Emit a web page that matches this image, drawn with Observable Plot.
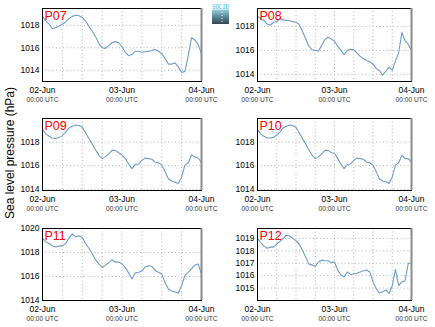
<!DOCTYPE html>
<html><head><meta charset="utf-8">
<script src="https://cdn.jsdelivr.net/npm/d3@7"></script>
<script src="https://cdn.jsdelivr.net/npm/@observablehq/plot@0.6"></script>
<style>
body{margin:0;background:#fff;}
#fig{position:relative;width:435px;height:327px;overflow:hidden;background:#fff;font-family:"Liberation Sans",Arial,sans-serif;}
#fig svg{position:absolute;}
</style></head><body><div id="fig"></div>
<script>
const hours = [0,1,2,3,4,5,6,7,8,9,10,11,12,13,14,15,16,17,18,19,20,21,22,23,24,25,26,27,28,29,30,31,32,33,34,35,36,37,38,39,40,41,42,43,44,45,46,47,48];
const p07 = [1018.8,1018.4,1018.1,1017.7,1017.8,1017.95,1018.1,1018.3,1018.6,1018.8,1018.9,1018.85,1018.7,1018.4,1017.9,1017.5,1017.0,1016.4,1016.0,1015.95,1016.2,1016.45,1016.55,1016.45,1016.1,1015.6,1015.3,1015.4,1015.7,1015.7,1015.6,1015.65,1015.7,1015.75,1015.85,1015.7,1015.5,1015.05,1014.55,1014.55,1014.65,1014.3,1013.8,1013.9,1015.3,1016.9,1016.7,1016.3,1015.45];
const p08 = [1018.85,1018.65,1018.5,1018.2,1018.1,1018.35,1018.4,1018.65,1018.55,1018.5,1018.5,1018.4,1018.35,1018.15,1017.6,1017.0,1016.35,1016.05,1016.0,1015.95,1016.4,1016.9,1017.1,1016.95,1016.75,1016.35,1016.0,1015.65,1016.0,1016.1,1016.05,1015.8,1015.5,1015.3,1015.15,1015.05,1014.85,1014.5,1014.3,1013.95,1014.25,1014.6,1014.35,1015.1,1015.8,1017.5,1016.8,1016.5,1016.0];
const p09 = [1019.07,1018.7,1018.5,1018.35,1018.3,1018.4,1018.55,1018.85,1019.2,1019.35,1019.45,1019.4,1019.25,1018.8,1018.3,1017.85,1017.35,1016.9,1016.6,1016.75,1017.0,1017.3,1017.3,1017.1,1016.9,1016.6,1016.15,1015.75,1016.1,1016.15,1016.45,1016.65,1016.6,1016.55,1016.3,1016.25,1016.05,1015.5,1014.9,1014.7,1014.6,1014.5,1015.05,1016.05,1016.25,1016.9,1016.75,1016.65,1016.25];
const p10 = [1019.05,1018.7,1018.5,1018.35,1018.35,1018.4,1018.6,1018.85,1019.2,1019.35,1019.45,1019.4,1019.25,1018.8,1018.3,1017.85,1017.35,1016.9,1016.6,1016.75,1017.0,1017.3,1017.3,1017.1,1017.05,1016.6,1016.15,1015.75,1016.1,1016.15,1016.45,1016.65,1016.6,1016.55,1016.3,1016.25,1016.05,1015.5,1014.9,1014.7,1014.65,1014.5,1015.05,1016.05,1016.25,1016.9,1016.6,1016.6,1016.3];
const p11 = [1019.2,1018.9,1018.75,1018.55,1018.45,1018.55,1018.55,1018.75,1019.2,1019.55,1019.3,1019.4,1019.25,1018.75,1018.35,1017.9,1017.4,1017.05,1016.75,1016.95,1017.15,1017.4,1017.2,1017.2,1017.05,1016.75,1016.3,1015.8,1016.3,1016.35,1016.45,1016.8,1016.9,1016.85,1016.5,1016.35,1016.2,1015.5,1014.95,1014.8,1014.7,1014.6,1015.25,1016.1,1016.35,1016.65,1016.95,1017.05,1016.2];
const p12 = [1019.0,1018.65,1018.4,1018.2,1018.3,1018.3,1018.55,1018.75,1019.0,1019.25,1019.2,1019.0,1018.8,1018.55,1018.05,1017.5,1016.95,1016.85,1016.75,1017.1,1017.25,1017.2,1017.2,1017.05,1017.1,1016.45,1016.05,1015.9,1016.3,1016.1,1016.15,1016.2,1016.3,1016.4,1016.45,1016.3,1015.5,1014.95,1014.6,1014.7,1014.85,1014.55,1015.2,1016.5,1015.2,1015.5,1015.6,1017.0,1017.0];

const panelNames = ["P07","P08","P09","P10","P11","P12"];
const yDomains = [[1013.0,1019.5],[1013.4,1019.5],[1013.9,1020.0],[1013.9,1020.0],[1014.0,1020.0],[1014.0,1019.8]];
const yTicks = [[1014,1016,1018],[1014,1016,1018],[1014,1016,1018],[1014,1016,1018],[1014,1016,1018,1020],[1015,1016,1017,1018,1019]];
const dateLabels = ["02-Jun","03-Jun","04-Jun"];
const dateTickHours = [0,24,48];
const gridHours = [6,12,18,24,30,36,42];
const timeLabel = "00:00 UTC";
const yTitle = "Sea level pressure (hPa)";
const logoText = "SOCIB";

const panelValues = [p07,p08,p09,p10,p11,p12];
const t0 = Date.UTC(2016,5,2);
const toDate = h => new Date(t0 + h*3600e3);
const hourOf = d => Math.round((+d - t0)/3600e3);
const font = "'Liberation Sans', Arial, sans-serif";

const fig = document.getElementById("fig");
panelNames.forEach((name,i) => {
  const col = i % 2, row = Math.floor(i / 2);
  const data = hours.map((h,k) => ({date: toDate(h), p: panelValues[i][k]}));
  const chart = Plot.plot({
    width: 215, height: 110,
    marginLeft: 42, marginRight: col === 0 ? 14 : 19,
    marginTop: 8, marginBottom: row === 0 ? 29 : 30,
    x: {type: "utc", domain: [toDate(0), toDate(48)]},
    y: {domain: yDomains[i]},
    style: {fontFamily: font, color: "#000", background: "transparent", overflow: "visible"},
    marks: [
      Plot.gridX(gridHours.map(toDate), {stroke: "#b4b4b4", strokeOpacity: 1, strokeDasharray: "1,2.5"}),
      Plot.gridY(yTicks[i], {stroke: "#b4b4b4", strokeOpacity: 1, strokeDasharray: "1,2.5"}),
      Plot.lineY(data, {x: "date", y: "p", stroke: "#6f9cc8", strokeWidth: 1.1}),
      Plot.text([name], {frameAnchor: "top-left", dx: 2, dy: 3, fill: "#ff0000", fontSize: 12.5, lineAnchor: "top", textAnchor: "start"}),
      Plot.frame({stroke: "#000"}),
      Plot.ruleX([toDate(48)], {stroke: "#8a8a8a", strokeWidth: 2}),
      Plot.axisY({ticks: yTicks[i], tickSize: 0, tickPadding: 3, fontSize: 8.5, tickFormat: d => String(d), label: null}),
      Plot.axisX({ticks: dateTickHours.map(toDate), tickSize: 0, tickPadding: 5, fontSize: 8.5,
        tickFormat: d => dateLabels[dateTickHours.indexOf(hourOf(d))], label: null}),
      Plot.axisX({ticks: dateTickHours.map(toDate), tickSize: 0, tickPadding: 15.5, fontSize: 6.6, fill: "#333",
        tickFormat: () => timeLabel, label: null})
    ]
  });
  chart.style.left = (col * 215) + "px";
  chart.style.top = (row * 110) + "px";
  fig.appendChild(chart);
});

// y title and logo overlay
const ov = d3.select(fig).append("svg")
  .attr("width", 435).attr("height", 327)
  .style("left", "0px").style("top", "0px").style("pointer-events", "none");
ov.append("text")
  .attr("transform", "translate(13.5,153) rotate(-90)")
  .attr("text-anchor", "middle")
  .attr("font-family", font).attr("font-size", 12).attr("fill", "#000")
  .text(yTitle);
const grad = ov.append("defs").append("linearGradient").attr("id", "lg").attr("x1", 0).attr("x2", 0).attr("y1", 0).attr("y2", 1);
grad.append("stop").attr("offset", "0%").attr("stop-color", "#9ccfdc");
grad.append("stop").attr("offset", "45%").attr("stop-color", "#5f8f9e");
grad.append("stop").attr("offset", "100%").attr("stop-color", "#34454f");
ov.append("rect").attr("x", 212).attr("y", 9.5).attr("width", 17).attr("height", 14.5).attr("fill", "url(#lg)");
ov.append("line").attr("x1", 222).attr("x2", 222).attr("y1", 12).attr("y2", 23)
  .attr("stroke", "#fff").attr("stroke-width", 1).attr("stroke-dasharray", "1,2");
ov.append("text").attr("x", 220.5).attr("y", 9).attr("text-anchor", "middle")
  .attr("font-family", "'DejaVu Sans Mono', monospace").attr("font-size", 6.5).attr("fill", "#4fb8d6")
  .attr("textLength", 17).attr("lengthAdjust", "spacingAndGlyphs")
  .text(logoText);
</script></body></html>
